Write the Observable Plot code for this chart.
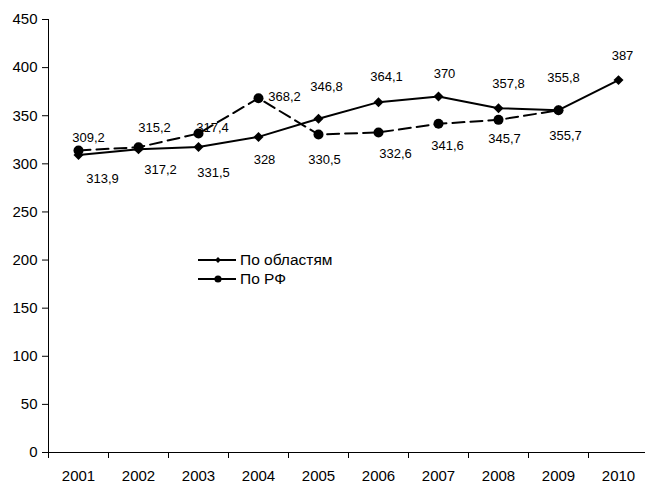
<!DOCTYPE html>
<html>
<head>
<meta charset="utf-8">
<script src="https://cdn.jsdelivr.net/npm/d3@7"></script>
<script src="https://cdn.jsdelivr.net/npm/@observablehq/plot@0.6"></script>
<style>
  html, body { margin: 0; padding: 0; background: #fff; }
  #chart { width: 645px; height: 484px; position: relative; }
</style>
</head>
<body>
<div id="chart"></div>
<script>
// ---- data ----
const years = [2001, 2002, 2003, 2004, 2005, 2006, 2007, 2008, 2009, 2010];
const regionsName = "По областям";
const regionsValues = [309.2, 315.2, 317.4, 328, 346.8, 364.1, 370, 357.8, 355.8, 387];
const rfName = "По РФ";
const rfYears = [2001, 2002, 2003, 2004, 2005, 2006, 2007, 2008, 2009];
const rfValues = [313.9, 317.2, 331.5, 368.2, 330.5, 332.6, 341.6, 345.7, 355.7];
const yTicks = [0, 50, 100, 150, 200, 250, 300, 350, 400, 450];

// ---- label layout (offsets in px) ----
const regionsLabelOffsets = [[10,-17],[16,-21],[14,-19],[6,23],[8,-32],[8,-25],[6,-23],[10,-24],[5,-32],[4,-24]];
const rfLabelOffsets = [[24,28],[22,23],[15,39],[26,-1],[6,25],[17,21],[9,22],[6,19],[7,26]];

const fmt = v => String(v).replace(".", ",");
const regions = years.map((y, i) => ({year: y, value: regionsValues[i]}));
const rf = rfYears.map((y, i) => ({year: y, value: rfValues[i]}));
const boundaries = d3.range(2000.5, 2011, 1);

const labelMarks = [
  ...regions.map((d, i) => Plot.text([d], {x: "year", y: "value", text: d => fmt(d.value), dx: regionsLabelOffsets[i][0], dy: regionsLabelOffsets[i][1], fontSize: 13, fill: "#000"})),
  ...rf.map((d, i) => Plot.text([d], {x: "year", y: "value", text: d => fmt(d.value), dx: rfLabelOffsets[i][0], dy: rfLabelOffsets[i][1], fontSize: 13, fill: "#000"}))
];

const plot = Plot.plot({
  width: 645,
  height: 484,
  marginTop: 19,
  marginBottom: 32,
  marginLeft: 48,
  marginRight: 0,
  style: {fontFamily: "'Liberation Sans', Arial, sans-serif", background: "#fff", color: "#000", overflow: "visible"},
  x: {domain: [2000.5, 2010.5], range: [48, 648]},
  y: {domain: [0, 450], range: [452, 19]},
  marks: [
    Plot.axisY({ticks: yTicks, tickSize: 6, tickPadding: 5, fontSize: 15, label: null, tickFormat: d => String(d), stroke: "#000"}),
    Plot.axisX({ticks: boundaries, tickSize: 6, tickFormat: () => "", label: null, stroke: "#000"}),
    Plot.axisX({ticks: years, tickSize: 0, tickPadding: 18, fontSize: 15, label: null, tickFormat: d => String(d)}),
    Plot.ruleX([2000.5], {y1: 0, y2: 450, stroke: "#000", strokeWidth: 1}),
    Plot.ruleY([0], {stroke: "#000", strokeWidth: 1}),
    Plot.line(rf, {x: "year", y: "value", stroke: "#000", strokeWidth: 2, strokeDasharray: "12,6"}),
    Plot.line(regions, {x: "year", y: "value", stroke: "#000", strokeWidth: 2}),
    Plot.dot(rf, {x: "year", y: "value", symbol: "circle", r: 5, fill: "#000", stroke: "none"}),
    Plot.dot(regions, {x: "year", y: "value", symbol: "diamond2", r: 4.5, fill: "#000", stroke: "none"}),
    ...labelMarks
  ]
});

// legend drawn inside the plot area
const svg = d3.select(plot);
const legend = svg.append("g")
  .attr("font-family", "'Liberation Sans', Arial, sans-serif")
  .attr("font-size", 15.5)
  .attr("text-anchor", "start");
const items = [
  {name: regionsName, symbol: d3.symbolDiamond2, size: 22},
  {name: rfName, symbol: d3.symbolCircle, size: 40}
];
items.forEach((it, i) => {
  const yy = 260 + i * 19;
  legend.append("line").attr("x1", 198).attr("x2", 236).attr("y1", yy).attr("y2", yy).attr("stroke", "#000").attr("stroke-width", 2);
  legend.append("path").attr("d", d3.symbol(it.symbol, it.size)()).attr("transform", `translate(218,${yy})`).attr("fill", "#000");
  legend.append("text").attr("x", 240).attr("y", yy).attr("dy", "0.35em").attr("text-anchor", "start").attr("fill", "#000").text(it.name);
});

document.getElementById("chart").appendChild(plot);
</script>
</body>
</html>
